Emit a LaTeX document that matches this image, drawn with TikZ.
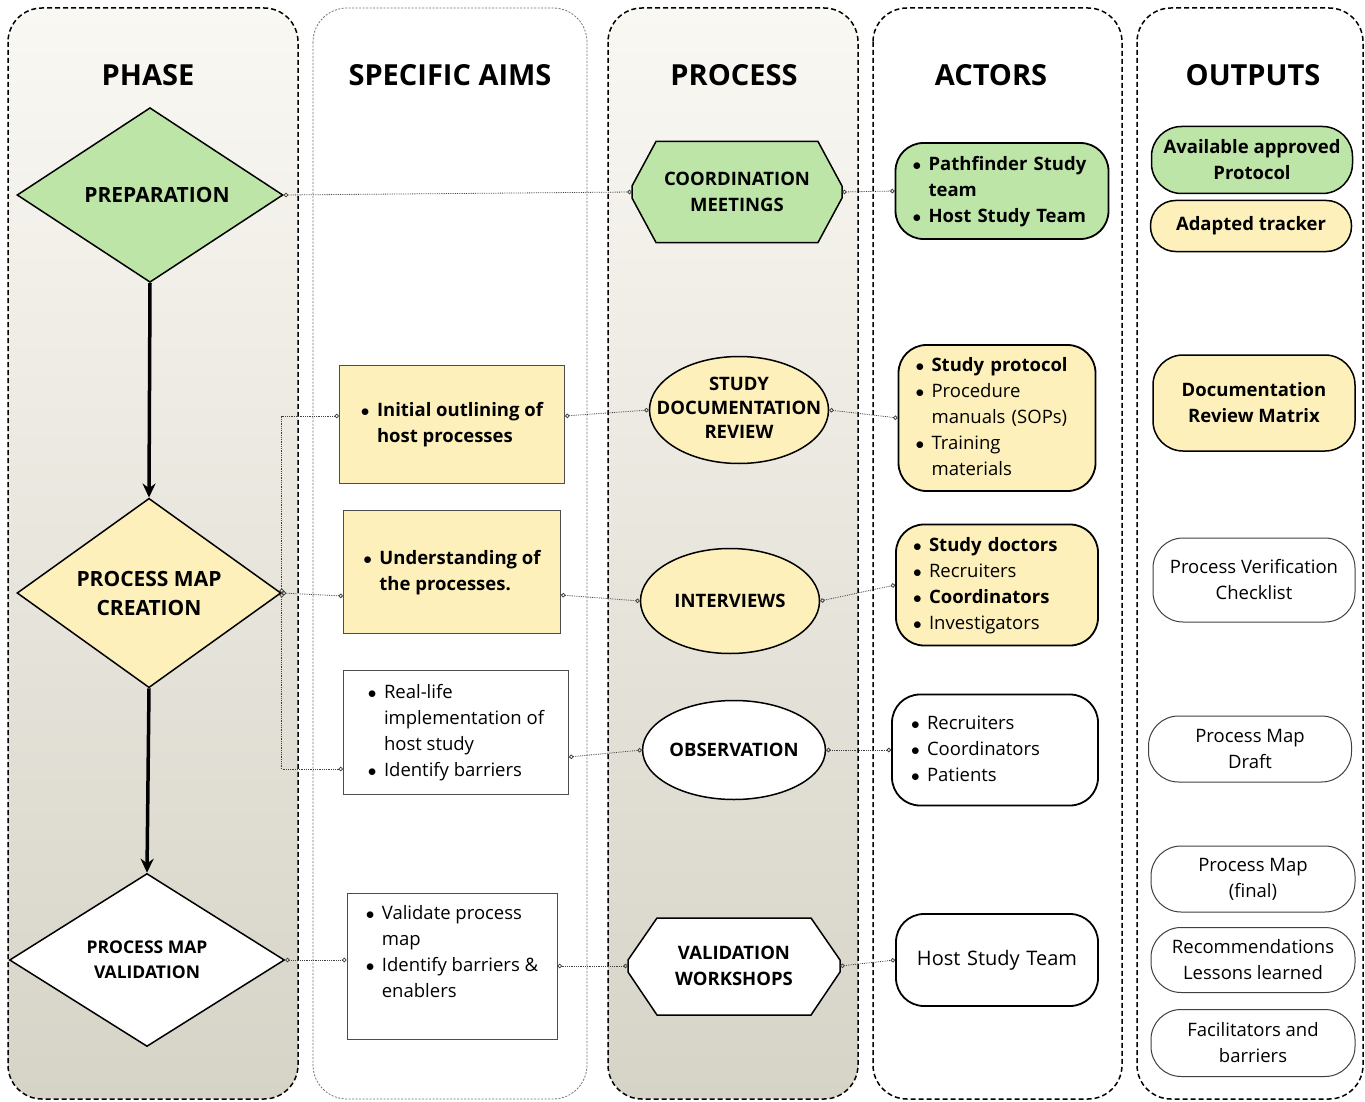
\documentclass[tikz,border=0pt]{standalone}
\usepackage{fontspec}
\setmainfont{Open Sans}
\usetikzlibrary{shapes.geometric,arrows.meta}

\definecolor{phgreen}{RGB}{190,229,168}
\definecolor{phyellow}{RGB}{253,240,186}
\definecolor{coltop}{RGB}{250,248,243}
\definecolor{colbot}{RGB}{214,211,199}

\newcommand{\bodyfont}{\fontsize{18.5}{26}\selectfont}
\newcommand{\bl}{$\bullet$}

\tikzset{
  lane/.style={dash pattern=on 5pt off 3pt, line width=1.5pt, rounded corners=34pt},
  lanethin/.style={dash pattern=on 2pt off 1.5pt, line width=0.8pt, draw=black!55, rounded corners=34pt},
  shadedlane/.style={lane, top color=coltop, bottom color=colbot},
  heading/.style={font=\fontsize{29}{34}\selectfont\bfseries},
  phase/.style={diamond, draw, line width=1.5pt, inner sep=0pt, align=center, font=\fontsize{21}{29}\selectfont\bfseries},
  aimbox/.style={rectangle, draw=black!70, line width=1pt, inner sep=0pt, font=\bodyfont},
  procell/.style={ellipse, draw, line width=1.5pt, inner sep=0pt, font=\fontsize{18.5}{24}\selectfont\bfseries},
  hexline/.style={draw, line width=1.5pt, line join=miter},
  hextext/.style={rectangle, inner sep=0pt, align=center, font=\fontsize{18.5}{26}\selectfont\bfseries},
  actorbox/.style={rectangle, rounded corners=28pt, draw, line width=1.8pt, inner xsep=17pt, inner ysep=0pt, align=left, font=\bodyfont},
  outbox/.style={rectangle, rounded corners=30pt, draw=black!75, line width=1pt, inner sep=0pt, align=center, font=\bodyfont},
  conn/.style={densely dotted, line width=0.8pt, black!75, {Circle[open,length=4.5pt]}-{Circle[open,length=4.5pt]}},
  flow/.style={line width=3.5pt, -{Stealth[length=14pt,width=13pt]}}
}

\begin{document}
\begin{tikzpicture}[x=1pt, y=-1pt]
  \useasboundingbox[fill=white] (0,0) rectangle (1365,1102);

  % lanes
  \draw[shadedlane] (8,8) rectangle (298,1099);
  \draw[lanethin] (313,8) rectangle (587,1099);
  \draw[shadedlane] (608,8) rectangle (858,1099);
  \draw[lane] (873,8) rectangle (1122,1099);
  \draw[lane] (1137,8) rectangle (1363,1099);

  % headings
  \foreach \x/\t in {148/PHASE, 450/SPECIFIC AIMS, 734/PROCESS, 991/ACTORS, 1253/OUTPUTS} {
    \node[heading] at (\x,75) {\t};
  }

  % phases
  \node[phase, fill=phgreen, minimum width=266pt, minimum height=166pt] (prep) at (150,195) {\hspace*{14pt}PREPARATION};
  \node[phase, fill=phyellow, minimum width=264pt, minimum height=164pt] (create) at (149,593) {PROCESS MAP\\CREATION};
  \node[phase, fill=white, minimum width=275pt, minimum height=173pt, font=\fontsize{17.5}{25}\selectfont\bfseries] (valid) at (147,960) {PROCESS MAP\\VALIDATION};
  \draw[flow] (prep.south) -- (create.north);
  \draw[flow] (create.south) -- (valid.north);

  % specific aims
  \node[aimbox, fill=phyellow, minimum width=225pt, minimum height=118pt, font=\bodyfont\bfseries] (aim1) at (452,424)
    {\begin{tabular}{@{}l@{\hspace{0.4em}}l@{}}\bl & Initial outlining of\\ & host processes\end{tabular}};
  \node[aimbox, fill=phyellow, minimum width=217pt, minimum height=123pt, font=\bodyfont\bfseries] (aim2) at (452,572)
    {\begin{tabular}{@{}l@{\hspace{0.4em}}l@{}}\bl & Understanding of\\ & the processes.\end{tabular}};
  \node[aimbox, fill=white, minimum width=225pt, minimum height=124pt] (aim3) at (456,732)
    {\begin{tabular}{@{}l@{\hspace{0.4em}}l@{}}\bl & Real-life\\ & implementation of\\ & host study\\ \bl & Identify barriers\end{tabular}};
  \node[aimbox, fill=white, minimum width=210pt, minimum height=146pt] (aim4) at (452,966)
    {\begin{tabular}{@{}l@{\hspace{0.4em}}l@{}}\bl & Validate process\\ & map\\ \bl & Identify barriers \&\\ & enablers\\ & \end{tabular}};

  % processes
  \draw[hexline, fill=phgreen] (632,186) -- (656,141.5) -- (818,141.5) -- (842,186) -- (842,198) -- (818,242.5) -- (656,242.5) -- (632,198) -- cycle;
  \node[hextext, minimum width=210pt, minimum height=101pt] (coord) at (737,192) {COORDINATION\\MEETINGS};
  \node[procell, fill=phyellow, minimum width=179pt, minimum height=107pt] (sdr) at (739,410)
    {\makebox[0pt]{\begin{tabular}{@{}c@{}}STUDY\\DOCUMENTATION\\REVIEW\end{tabular}}};
  \node[procell, fill=phyellow, minimum width=179pt, minimum height=105pt] (intv) at (730,601) {INTERVIEWS};
  \node[procell, fill=white, minimum width=177pt, minimum height=99pt] (obs) at (734,750) {OBSERVATION};
  \draw[hexline, fill=white] (628,960) -- (657,918) -- (811,918) -- (840,960) -- (840,972) -- (811,1015) -- (657,1015) -- (628,972) -- cycle;
  \node[hextext, minimum width=212pt, minimum height=97pt] (vws) at (734,966) {VALIDATION\\WORKSHOPS};

  % actors
  \node[actorbox, fill=phgreen, text width=179pt, minimum height=96pt, font=\bodyfont\bfseries] (act1) at (1002,191)
    {\begin{tabular}{@{}l@{\hspace{0.4em}}l@{}}\bl & Pathfinder Study\\ & team\\ \bl & Host Study Team\end{tabular}};
  \node[actorbox, fill=phyellow, text width=163pt, minimum height=146pt] (act2) at (997,418)
    {\begin{tabular}{@{}l@{\hspace{0.4em}}l@{}}\bl & \textbf{Study protocol}\\ \bl & Procedure\\ & manuals (SOPs)\\ \bl & Training\\ & materials\end{tabular}};
  \node[actorbox, fill=phyellow, text width=168pt, minimum height=121pt] (act3) at (997,585)
    {\begin{tabular}{@{}l@{\hspace{0.4em}}l@{}}\bl & \textbf{Study doctors}\\ \bl & Recruiters\\ \bl & \textbf{Coordinators}\\ \bl & Investigators\end{tabular}};
  \node[actorbox, fill=white, text width=168pt, minimum height=111pt, inner xsep=19pt] (act4) at (995,750)
    {\begin{tabular}{@{}l@{\hspace{0.4em}}l@{}}\bl & Recruiters\\ \bl & Coordinators\\ \bl & Patients\end{tabular}};
  \node[actorbox, fill=white, text width=168pt, minimum height=92pt, align=center, font=\fontsize{20}{26}\selectfont] (act5) at (997,960) {Host Study Team};

  % outputs
  \node[outbox, fill=phgreen, draw=black, line width=1.5pt, minimum width=201pt, minimum height=67pt, font=\bodyfont\bfseries] (out1) at (1252,160) {Available approved\\Protocol};
  \node[outbox, fill=phyellow, draw=black, line width=1.5pt, rounded corners=25pt, minimum width=201pt, minimum height=51pt, font=\bodyfont\bfseries] (out2) at (1251,226) {Adapted tracker};
  \node[outbox, fill=phyellow, draw=black, line width=1.5pt, minimum width=202pt, minimum height=96pt, font=\bodyfont\bfseries] (out3) at (1254,403) {Documentation\\Review Matrix};
  \node[outbox, minimum width=202pt, minimum height=84pt] (out4) at (1254,580) {Process Verification\\Checklist};
  \node[outbox, minimum width=203pt, minimum height=66pt] (out5) at (1250,749) {Process Map\\Draft};
  \node[outbox, minimum width=204pt, minimum height=66pt] (out6) at (1253,879) {Process Map\\(final)};
  \node[outbox, minimum width=204pt, minimum height=65pt] (out7) at (1253,960) {Recommendations\\Lessons learned};
  \node[outbox, minimum width=204pt, minimum height=67pt] (out8) at (1253,1043) {Facilitators and\\barriers};

  % links
  \draw[conn] (prep.east) -- (coord.west);
  \draw[conn] (coord.east) -- (act1.west);
  \draw[conn] (create.east) |- ([yshift=8pt]aim1.west);
  \draw[conn] (create.east) -- ([yshift=-24pt]aim2.west);
  \draw[conn] (create.east) |- ([yshift=-37pt]aim3.west);
  \draw[conn] (valid.east) -- ([yshift=6pt]aim4.west);
  \draw[conn] ([yshift=8pt]aim1.east) -- (sdr.west);
  \draw[conn] ([yshift=-23pt]aim2.east) -- (intv.west);
  \draw[conn] ([yshift=-25pt]aim3.east) -- (obs.west);
  \draw[conn] (aim4.east) -- (vws.west);
  \draw[conn] (sdr.east) -- (act2.west);
  \draw[conn] (intv.east) -- (act3.west);
  \draw[conn] (obs.east) -- (act4.west);
  \draw[conn] (vws.east) -- (act5.west);
\end{tikzpicture}
\end{document}
